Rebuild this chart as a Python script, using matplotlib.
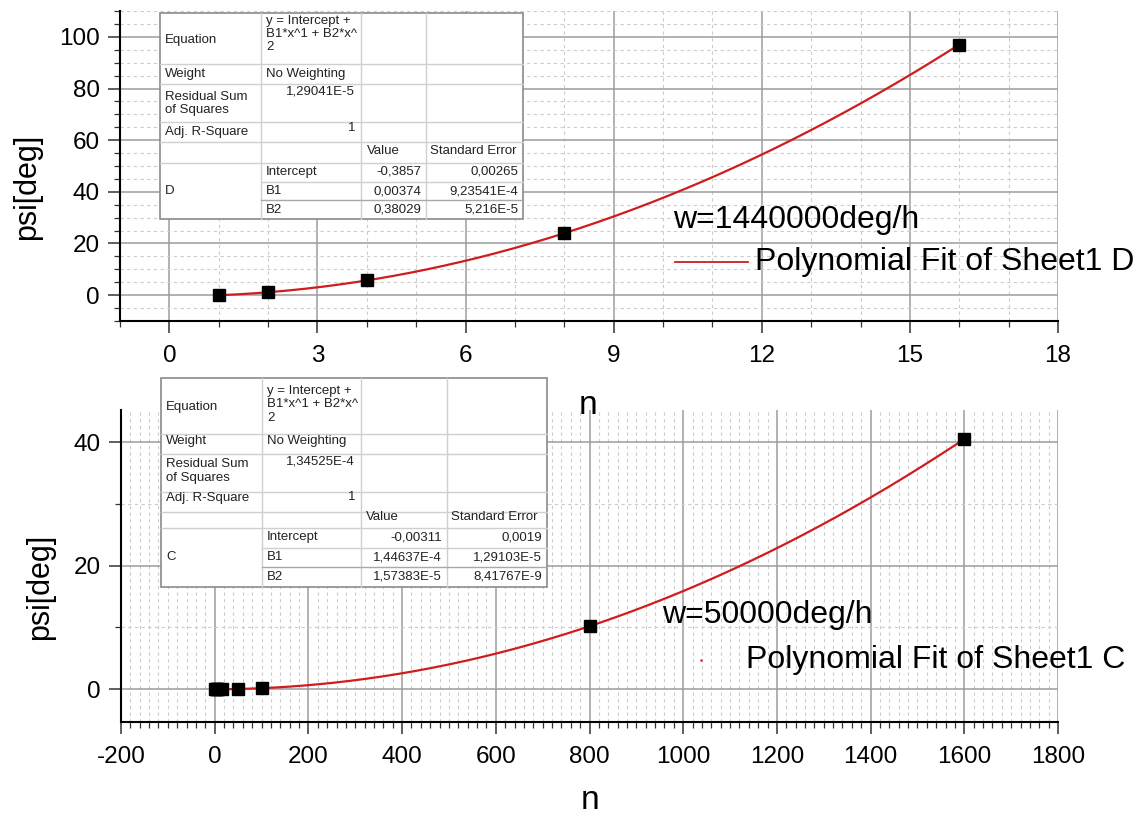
import numpy as np
import matplotlib
matplotlib.use('Agg')
import matplotlib.pyplot as plt
from matplotlib.ticker import MultipleLocator
from matplotlib.patches import Rectangle
from matplotlib.lines import Line2D

plt.rcParams['font.family'] = ['Liberation Sans', 'DejaVu Sans']
plt.rcParams['axes.unicode_minus'] = False

W, H = 1147, 816

# ---------------- data ----------------
n_top = [1, 2, 4, 8, 16]
psi_top = [0.0, 1.1, 5.7, 24.0, 97.0]

n_bot = [1, 2, 4, 8, 16, 50, 100, 800, 1600]
psi_bot = [0.0, 0.0, 0.0, 0.0, 0.0, 0.04, 0.17, 10.2, 40.5]

legend_title_top = 'w=1440000deg/h'
legend_title_bot = 'w=50000deg/h'
fit_label_top = 'Polynomial Fit of Sheet1 D'
fit_label_bot = 'Polynomial Fit of Sheet1 C'

x_label = 'n'
y_label = 'psi[deg]'

eq_lines = ['y = Intercept +', 'B1*x^1 + B2*x^', '2']
rss_top, rss_bot = '1,29041E-5', '1,34525E-4'
adjr_top, adjr_bot = '1', '1'
params = ['Intercept', 'B1', 'B2']
values_top = ['-0,3857', '0,00374', '0,38029']
errors_top = ['0,00265', '9,23541E-4', '5,216E-5']
values_bot = ['-0,00311', '1,44637E-4', '1,57383E-5']
errors_bot = ['0,0019', '1,29103E-5', '8,41767E-9']

# ---------------- figure ----------------
fig = plt.figure(figsize=(W / 100, H / 100), dpi=100)


def px_axes(l, t, r, b, **kw):
    return fig.add_axes([l / W, 1 - b / H, (r - l) / W, (b - t) / H], **kw)


RED = '#d01c1c'


def style(ax, xmaj, xmin, ymaj, ymin):
    ax.xaxis.set_major_locator(MultipleLocator(xmaj))
    ax.xaxis.set_minor_locator(MultipleLocator(xmin))
    ax.yaxis.set_major_locator(MultipleLocator(ymaj))
    ax.yaxis.set_minor_locator(MultipleLocator(ymin))
    ax.grid(which='major', color='#9c9c9c', lw=1.1, ls='-')
    ax.grid(which='minor', color='#cccccc', lw=0.8, ls=(0, (3, 3)))
    ax.set_axisbelow(True)
    for s in ('top', 'right'):
        ax.spines[s].set_visible(False)
    for s in ('left', 'bottom'):
        ax.spines[s].set_linewidth(1.5)
        ax.spines[s].set_color('black')
    ax.tick_params(which='major', direction='out', length=8.5, width=1.1,
                   labelsize=17.5, pad=6, color='#333333')
    ax.tick_params(axis='x', which='major', pad=9)
    ax.tick_params(which='minor', direction='out', length=4, width=0.9,
                   color='#333333')


# top axes
ax1 = px_axes(120, 11, 1058, 321)
style(ax1, 3, 1, 20, 5)
ax1.set_xlim(-1, 18)
ax1.set_ylim(-10, 110)
c1 = np.polyfit(n_top, psi_top, 2)
xs1 = np.linspace(min(n_top), max(n_top), 300)
ax1.plot(xs1, np.polyval(c1, xs1), color=RED, lw=1.6, zorder=3)
ax1.plot(n_top, psi_top, 's', color='black', ms=9, zorder=4)

# bottom axes
ax2 = px_axes(121, 410, 1058, 722)
style(ax2, 200, 20, 20, 10)
ax2.set_xlim(-200, 1800)
ax2.set_ylim(-5.3, 45.2)
c2 = np.polyfit(n_bot, psi_bot, 2)
xs2 = np.linspace(min(n_bot), max(n_bot), 400)
ax2.plot(xs2, np.polyval(c2, xs2), color=RED, lw=1.6, zorder=3)
ax2.plot(n_bot, psi_bot, 's', color='black', ms=8.5, zorder=4)

# overlay in pixel coordinates
ov = fig.add_axes([0, 0, 1, 1], zorder=10)
ov.set_xlim(0, W)
ov.set_ylim(H, 0)
ov.axis('off')
ov.patch.set_alpha(0)

# axis labels
ov.text(27, 187, y_label, rotation=90, ha='center', va='center', fontsize=22)
ov.text(40, 587, y_label, rotation=90, ha='center', va='center', fontsize=22)
ov.text(588, 414, x_label, ha='center', va='baseline', fontsize=24)
ov.text(590, 809, x_label, ha='center', va='baseline', fontsize=24)

# legends
ov.text(673, 220, legend_title_top, ha='left', va='center', fontsize=23)
ov.add_line(Line2D([675, 748], [262, 262], color=RED, lw=1.3))
ov.text(755, 262, fit_label_top, ha='left', va='center', fontsize=23)
ov.text(662, 615, legend_title_bot, ha='left', va='center', fontsize=23)
ov.plot([701], [660], '.', color=RED, ms=1.5)
ov.text(746, 660, fit_label_bot, ha='left', va='center', fontsize=23)

TFS = 9.5
TC = '#222222'


def table(cols, rows, eq_y, eq_label_y, weight_y, rss_lines_y, rss_val_y,
          adj_y, adj_val_y, hdr_y, hdr_x, par_y, letter, rss, adjr, vals, errs):
    x0, x1, x2, x3, x4 = cols
    ov.add_patch(Rectangle((x0, rows[0]), x4 - x0, rows[-1] - rows[0],
                           facecolor='white', edgecolor='#8a8a8a', lw=1.2, zorder=1))
    lc = '#cfcfcf'
    for xv in (x1, x2, x3):
        ov.add_line(Line2D([xv, xv], [rows[0], rows[-1]], color=lc, lw=1.0, zorder=2))
    for i, yv in enumerate(rows[1:-1], start=1):
        xa = x0 if i <= 5 else x1
        col = '#a8a8a8' if i == 7 else lc
        ov.add_line(Line2D([xa, x4], [yv, yv], color=col, lw=1.0, zorder=2))
    tx = dict(fontsize=TFS, color=TC, va='center', zorder=3)
    ov.text(x0 + 5, eq_label_y, 'Equation', ha='left', **tx)
    for s, yy in zip(eq_lines, eq_y):
        ov.text(x1 + 5, yy, s, ha='left', **tx)
    ov.text(x0 + 5, weight_y, 'Weight', ha='left', **tx)
    ov.text(x1 + 5, weight_y, 'No Weighting', ha='left', **tx)
    ov.text(x0 + 5, rss_lines_y[0], 'Residual Sum', ha='left', **tx)
    ov.text(x0 + 5, rss_lines_y[1], 'of Squares', ha='left', **tx)
    ov.text(x2 - 6, rss_val_y, rss, ha='right', **tx)
    ov.text(x0 + 5, adj_y, 'Adj. R-Square', ha='left', **tx)
    ov.text(x2 - 6, adj_val_y, adjr, ha='right', **tx)
    ov.text(hdr_x[0], hdr_y, 'Value', ha='left', **tx)
    ov.text(hdr_x[1], hdr_y, 'Standard Error', ha='left', **tx)
    for p, v, e, yy in zip(params, vals, errs, par_y):
        ov.text(x1 + 5, yy, p, ha='left', **tx)
        ov.text(x3 - 5, yy, v, ha='right', **tx)
        ov.text(x4 - 5, yy, e, ha='right', **tx)
    ov.text(x0 + 5, par_y[1], letter, ha='left', **tx)


table(cols=[160, 261, 361, 426, 523],
      rows=[13, 64, 84, 122, 142, 163, 182, 200, 219],
      eq_y=[21, 34, 47], eq_label_y=40, weight_y=74,
      rss_lines_y=[96.5, 110.5], rss_val_y=91, adj_y=132.5, adj_val_y=128,
      hdr_y=151, hdr_x=[367, 430], par_y=[171.5, 191.5, 210],
      letter='D', rss=rss_top, adjr=adjr_top, vals=values_top, errs=errors_top)

table(cols=[161, 262, 361, 447, 547],
      rows=[378, 434, 454, 492, 512, 528, 548, 567, 587],
      eq_y=[391, 404, 418], eq_label_y=407, weight_y=441,
      rss_lines_y=[464, 477.5], rss_val_y=461, adj_y=498.5, adj_val_y=497,
      hdr_y=517, hdr_x=[366, 451], par_y=[537, 557.5, 576.5],
      letter='C', rss=rss_bot, adjr=adjr_bot, vals=values_bot, errs=errors_bot)

fig.savefig('out.png', dpi=100)
